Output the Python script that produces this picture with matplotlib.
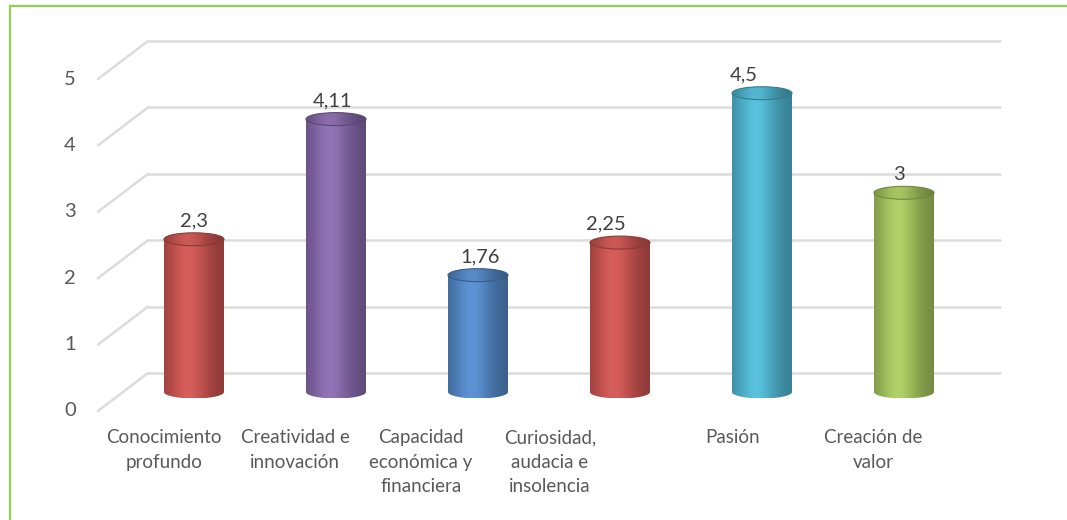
import matplotlib
matplotlib.use("Agg")
import numpy as np
import matplotlib.pyplot as plt
import matplotlib.colors as mcolors
from matplotlib.path import Path
from matplotlib.patches import PathPatch, Ellipse
from matplotlib.lines import Line2D

# ---- data ----
categories = [
    "Conocimiento\nprofundo",
    "Creatividad e\ninnovación",
    "Capacidad\neconómica y\nfinanciera",
    "Curiosidad,\naudacia e\ninsolencia",
    "Pasión",
    "Creación de\nvalor",
]
values = [2.3, 4.11, 1.76, 2.25, 4.5, 3]
value_labels = ["2,3", "4,11", "1,76", "2,25", "4,5", "3"]
bar_colors = ["#C0504D", "#8064A2", "#4F81BD", "#C0504D", "#4BACC6", "#9BBB59"]
y_ticks = [0, 1, 2, 3, 4, 5]

# ---- layout (pixels) ----
W, H = 1067, 520
FONT = "Lato"
TEXT_C = "#595959"
GRID_C = "#dcdcdc"
FRAME_C = "#92d050"

fig = plt.figure(figsize=(W / 100, H / 100), dpi=100)
fig.patch.set_facecolor("white")

# back wall of the plot: x from px 148 to 1000, value 0 at row 373, 5 at row 41
wall_left, wall_right, wall_bottom, wall_top = 148, 1000, 373, 41
n = len(values)
xmin, xmax, ymin, ymax = -0.5, n - 0.5, 0, 5
sx = (wall_right - wall_left) / (xmax - xmin)   # px per category
sy = (wall_bottom - wall_top) / (ymax - ymin)   # px per value unit

# the axes spans the whole figure so nothing below the wall gets clipped
ax = fig.add_axes([0, 0, 1, 1])
ax.set_xlim(xmin - wall_left / sx, xmax + (W - wall_right) / sx)
ax.set_ylim(ymin - (H - wall_bottom) / sy, ymax + wall_top / sy)

# depth shear: front plane is shifted left/down relative to the back wall
DX, DY = -50, -38
dxu, dyu = DX / sx, DY / sy

# back-wall gridlines and the oblique side-wall segments
for t in y_ticks:
    ax.plot([xmin, xmax], [t, t], color=GRID_C, lw=1.8, zorder=1,
            solid_capstyle="round")
    ax.plot([xmin, xmin + dxu], [t, t + dyu], color=GRID_C, lw=1.8,
            zorder=1, solid_capstyle="round")
    ax.text(xmin + dxu - 22 / sx, t + dyu, str(t), ha="right", va="center",
            fontsize=14.5, color=TEXT_C, family=FONT)

# cylinders, centred at mid depth
rx = 30 / sx
ry = 6.5 / sy
N = 200
tt = np.linspace(0, 1, N)
profile = np.exp(-((tt - 0.40) / 0.38) ** 2)
shade = 0.72 + 0.36 * profile


def gradient_rgb(color, k=1.0):
    base = np.array(mcolors.to_rgb(color))
    rows = np.clip(base[None, :] * (shade[:, None] * k), 0, 1)
    rows = np.clip(rows + 0.03 * profile[:, None] ** 3, 0, 1)
    return np.stack([rows, rows])


for i, (v, c) in enumerate(zip(values, bar_colors)):
    xc = i + dxu / 2
    y0 = dyu / 2
    yt = v + dyu / 2
    # body outline: left side down, lower half ellipse, right side up
    th = np.linspace(np.pi, 2 * np.pi, 60)
    arc = np.column_stack([xc + rx * np.cos(th), y0 + ry * np.sin(th)])
    verts = np.vstack([[xc - rx, yt], arc, [xc + rx, yt], [xc - rx, yt]])
    body = PathPatch(Path(verts), facecolor="none", edgecolor="none",
                     transform=ax.transData)
    ax.add_patch(body)
    im = ax.imshow(gradient_rgb(c), extent=[xc - rx, xc + rx, y0 - ry, yt],
                   aspect="auto", interpolation="bilinear", zorder=3,
                   origin="lower")
    im.set_clip_path(body)
    # top cap
    cap = Ellipse((xc, yt), 2 * rx, 2 * ry, transform=ax.transData,
                  facecolor="none", edgecolor="none", zorder=4)
    ax.add_patch(cap)
    im2 = ax.imshow(gradient_rgb(c, 0.94), extent=[xc - rx, xc + rx, yt - ry, yt + ry],
                    aspect="auto", interpolation="bilinear", zorder=4,
                    origin="lower")
    im2.set_clip_path(cap)
    rim = Ellipse((xc, yt), 2 * rx, 2 * ry, transform=ax.transData,
                  facecolor="none", lw=0.8, zorder=5,
                  edgecolor=tuple(np.array(mcolors.to_rgb(c)) * 0.72))
    ax.add_patch(rim)

# value labels above each cylinder
label_nudge_px = [0, -3, 2, -14, -18, -5]
for i, (v, s) in enumerate(zip(values, value_labels)):
    ax.text(i + dxu / 2 + label_nudge_px[i] / sx, v + dyu / 2 + 13 / sy, s,
            ha="center", va="baseline", fontsize=14.5, color="#404040",
            family=FONT, zorder=6)

# category labels along the front edge
cat_nudge_px = [-5, -16, -32, -45, -4, -6]
for i, lab in enumerate(categories):
    ax.text(i + dxu + cat_nudge_px[i] / sx, dyu - 18 / sy, lab,
            ha="center", va="top", fontsize=13.5, color=TEXT_C,
            family=FONT, linespacing=1.55, multialignment="center")

ax.set_xlim(xmin - wall_left / sx, xmax + (W - wall_right) / sx)
ax.set_ylim(ymin - (H - wall_bottom) / sy, ymax + wall_top / sy)
ax.axis("off")

# thin green frame along the top and left
fig.add_artist(Line2D([10 / W, 1.0], [1 - 6 / H, 1 - 6 / H],
                      transform=fig.transFigure, color=FRAME_C, lw=1.6))
fig.add_artist(Line2D([10 / W, 10 / W], [0, 1 - 6 / H],
                      transform=fig.transFigure, color=FRAME_C, lw=1.6))

fig.savefig("out.png", dpi=100, facecolor="white")
